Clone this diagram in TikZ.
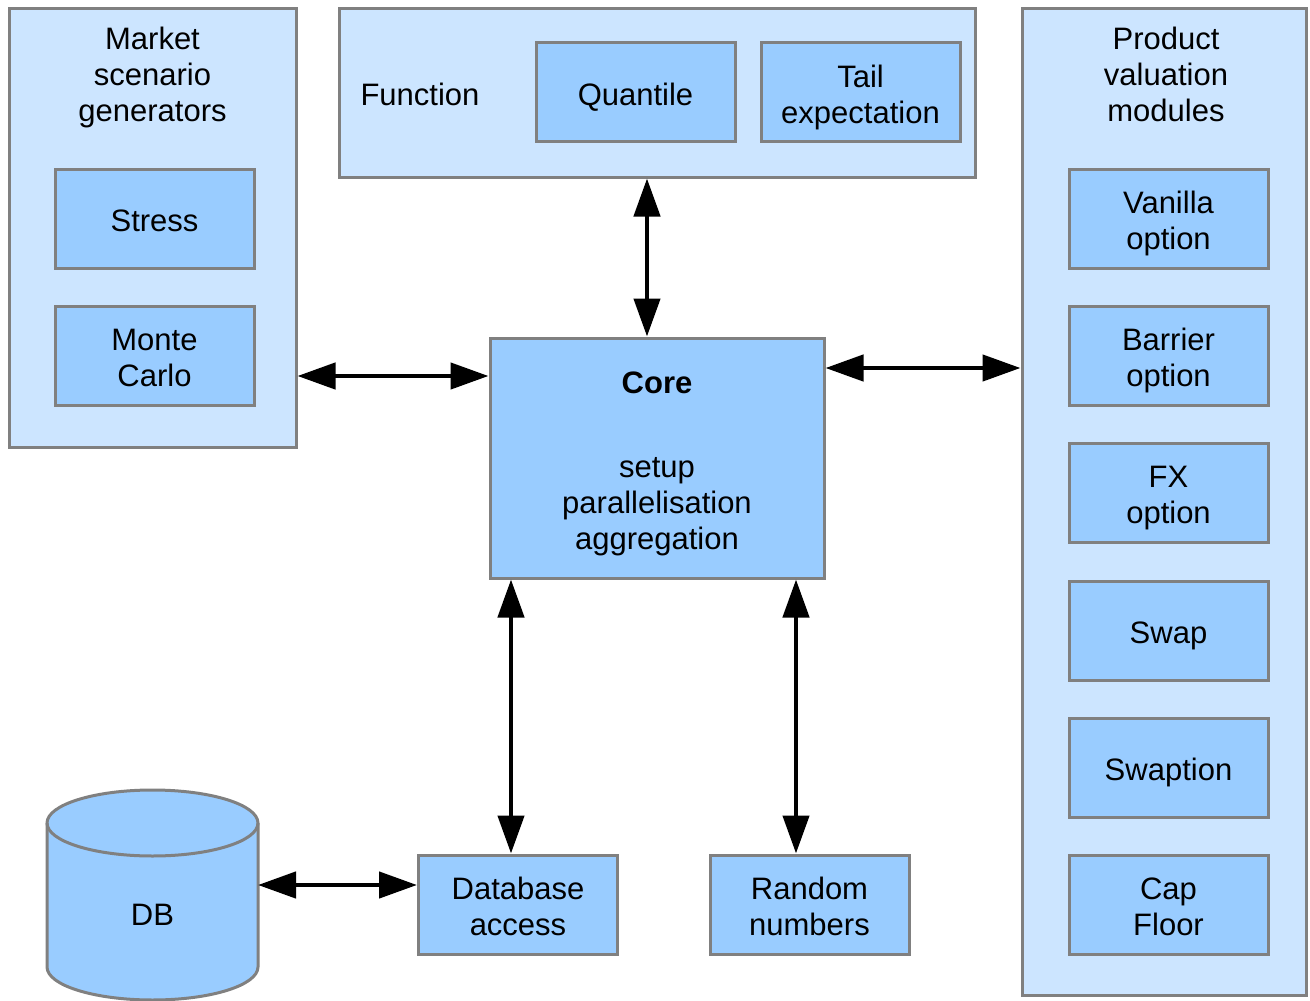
\documentclass[tikz,border=0pt]{standalone}
\usepackage{fontspec}
\setmainfont{Liberation Sans}
\usetikzlibrary{arrows.meta}
\definecolor{outerfill}{HTML}{CCE5FF}
\definecolor{innerfill}{HTML}{99CCFF}
\definecolor{bordergray}{HTML}{808080}
\newcommand\fstrut{\rule{0pt}{33.6pt}}
\begin{document}
\begin{tikzpicture}[x=1pt,y=-1pt,
  font=\fontsize{31pt}{36pt}\selectfont,
  every node/.style={execute at begin node={\rule{0pt}{33.6pt}}, execute at end node={\rule[-7pt]{0pt}{7pt}}},
  outer/.style={draw=bordergray, fill=outerfill, line width=3pt, inner sep=0pt},
  inner/.style={draw=bordergray, fill=innerfill, line width=3pt, inner sep=0pt, align=center, minimum width=199pt, minimum height=99pt},
  lbl/.style={align=center, inner sep=0pt},
  bi/.style={line width=4.5pt, {Triangle[length=38pt,width=26pt]}-{Triangle[length=38pt,width=26pt]}}]
\useasboundingbox (0,0) rectangle (1310,1001);

% Market scenario generators
\node[outer, minimum width=287pt, minimum height=439pt] (market) at (152.5,227.5) {};
\node[lbl] (markett) at (152.5,72) {\fstrut Market\\scenario\\generators};
\node[inner] (stress) at (154.5,218.5) {Stress};
\node[inner] (monte) at (154.5,355.5) {\fstrut Monte\\Carlo};

% Function
\node[outer, minimum width=636pt, minimum height=169pt] (func) at (657,92.5) {};
\node[lbl] (funct) at (420,92) {Function};
\node[inner] (quant) at (635.5,92) {Quantile};
\node[inner] (tail) at (860.5,92) {\fstrut Tail\\expectation};

% Product valuation modules
\node[outer, minimum width=284pt, minimum height=987pt] (prod) at (1164,501.5) {};
\node[lbl] (prodt) at (1166,72) {\fstrut Product\\valuation\\modules};
\node[inner] (vanilla) at (1168.5,218.5) {\fstrut Vanilla\\option};
\node[inner] (barrier) at (1168.5,355.5) {\fstrut Barrier\\option};
\node[inner] (fx) at (1168.5,492.5) {\fstrut FX\\option};
\node[inner] (swap) at (1168.5,630.5) {Swap};
\node[inner] (swaption) at (1168.5,767.5) {Swaption};
\node[inner] (cap) at (1168.5,904.5) {\fstrut Cap\\Floor};

% Core
\node[inner, minimum width=334pt, minimum height=240pt] (core) at (657,458) {};
\node[lbl] (coret) at (657,380) {\bfseries Core};
\node[lbl] (coretext) at (657,500) {\fstrut setup\\parallelisation\\aggregation};

% Bottom boxes
\node[inner] (dbacc) at (518,904.5) {\fstrut Database\\access};
\node[inner] (rand) at (809.5,904.5) {\fstrut Random\\numbers};

% DB cylinder
\path[fill=innerfill, draw=bordergray, line width=3pt]
  (47,823) -- (47,967) arc[start angle=180, end angle=360, x radius=105.5pt, y radius=33pt]
  -- (258,823) arc[start angle=0, end angle=180, x radius=105.5pt, y radius=33pt] -- cycle;
\draw[bordergray, line width=3pt] (47,823) arc[start angle=180, end angle=360, x radius=105.5pt, y radius=33pt];
\node[lbl] (db) at (152.5,912) {DB};
\coordinate (dbR) at (258,885);

% Connectors
\draw[bi] (market.east |- 0,376) -- (core.west |- 0,376);
\draw[bi] (func.south -| 647,0) -- (core.north -| 647,0);
\draw[bi] (core.east |- 0,368) -- (prod.west |- 0,368);
\draw[bi] (core.south -| 511,0) -- (dbacc.north -| 511,0);
\draw[bi] (core.south -| 796,0) -- (rand.north -| 796,0);
\draw[bi] (dbR) -- (dbacc.west |- 0,885);
\end{tikzpicture}
\end{document}
